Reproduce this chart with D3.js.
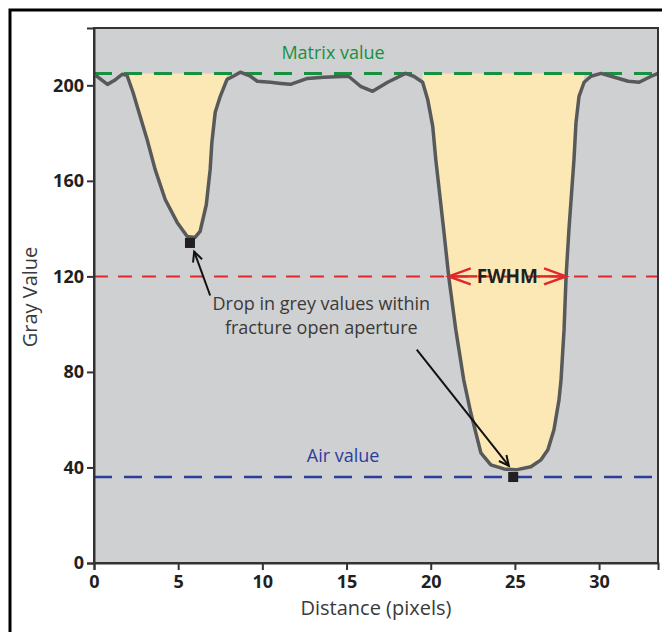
<!DOCTYPE html>
<html><head><meta charset="utf-8">
<script src="https://cdn.jsdelivr.net/npm/d3@7"></script>
<style>
html,body{margin:0;padding:0;background:#fff;}
svg{display:block;font-family:"Open Sans","Noto Sans",sans-serif;}
</style></head>
<body>
<svg id="c" width="662" height="632"></svg>
<script>
// ---- data ----
const distance = [0.1, 0.8, 1.2, 1.67, 1.96, 2.32, 2.74, 3.15, 3.63, 4.23, 4.94, 5.54, 6.0, 6.3, 6.67, 6.9, 7.0, 7.2, 7.5, 7.9, 8.27, 8.69, 9.29, 9.7, 10.48, 11.1, 11.67, 12.68, 13.63, 15.12, 15.83, 16.55, 17.44, 18.51, 18.99, 19.52, 19.82, 20.12, 20.3, 20.77, 21.07, 21.49, 21.96, 22.38, 22.98, 23.57, 24.35, 25.06, 25.95, 26.55, 26.96, 27.32, 27.62, 27.74, 27.92, 28.04, 28.21, 28.51, 28.63, 28.81, 29.11, 29.52, 30.12, 30.71, 31.73, 32.38, 33.1, 33.5];
const grayValue = [204.2, 200.4, 202, 204.6, 204.2, 197, 187, 177.4, 164.8, 152.2, 142.6, 136.7, 136.3, 138.8, 150, 164.8, 176, 188.7, 195.4, 202.5, 203.8, 205.5, 203.8, 201.7, 201.3, 200.8, 200.4, 202.9, 203.4, 203.8, 199.6, 197.5, 201.3, 205, 203.8, 201.3, 194.1, 182.8, 169, 139.6, 119.9, 97.7, 76.7, 62.9, 46.1, 41.1, 39.4, 39, 40.3, 43.2, 47.4, 55.8, 68.3, 76.7, 97.7, 119.9, 139.6, 169, 184.5, 195.4, 201.3, 203.8, 205, 203.8, 201.7, 201.3, 203.8, 205];
const dipRanges = [[1.67, 8.0], [19.3, 29.3]];
const minimaX = [5.7, 24.9];
const minimaY = [134, 36];
const matrixValue = 205;
const fwhmLevel = 120;
const airValue = 36;
const fwhmBounds = [21.07, 28.04];
const xTicks = [0, 5, 10, 15, 20, 25, 30];
const yTicks = [0, 40, 80, 120, 160, 200];
const xDomain = [0, 33.5];
const yDomain = [0, 224];

// ---- layout ----
const svg = d3.select("#c");
const L = 94, R = 658, T = 28, B = 563;
const x = d3.scaleLinear().domain(xDomain).range([L, R]);
const y = d3.scaleLinear().domain(yDomain).range([B, T]);

// outer frame
svg.append("rect").attr("x", 10).attr("y", 10).attr("width", 700).attr("height", 700)
  .attr("fill", "none").attr("stroke", "#000").attr("stroke-width", 3);

// plot background
svg.append("rect").attr("x", L).attr("y", T).attr("width", R - L).attr("height", B - T)
  .attr("fill", "#cfd0d2");

// fills
const pts = distance.map((d, i) => [d, grayValue[i]]);
const area = d3.area().x(d => x(d[0])).y0(y(matrixValue)).y1(d => y(Math.min(d[1], matrixValue)));
dipRanges.forEach(r => {
  const sub = pts.filter(p => p[0] >= r[0] && p[0] <= r[1]);
  svg.append("path").attr("d", area(sub)).attr("fill", "#fbe8b4");
});

// reference lines
function hline(v, color, dash, w) {
  svg.append("line").attr("x1", L).attr("x2", R).attr("y1", y(v)).attr("y2", y(v))
    .attr("stroke", color).attr("stroke-width", w).attr("stroke-dasharray", dash);
}
hline(matrixValue, "#16913f", "18,12", 3);
hline(fwhmLevel, "#e3262c", "14,10", 2);
hline(airValue, "#2b3d9b", "18,12", 2.5);

// profile line
svg.append("path").attr("d", d3.line().x(d => x(d[0])).y(d => y(d[1]))(pts))
  .attr("fill", "none").attr("stroke", "#58595b").attr("stroke-width", 3.5)
  .attr("stroke-linejoin", "round");

// minima squares
minimaX.forEach((mx, i) => {
  svg.append("rect").attr("x", x(mx) - 5).attr("y", y(minimaY[i]) - 5)
    .attr("width", 10).attr("height", 10).attr("fill", "#231f20");
});

// plot frame
svg.append("rect").attr("x", L).attr("y", T).attr("width", R - L).attr("height", B - T)
  .attr("fill", "none").attr("stroke", "#333").attr("stroke-width", 2);

// axes
const xa = svg.append("g").attr("transform", `translate(0,${B})`)
  .call(d3.axisBottom(x).tickValues(xTicks).tickSize(7).tickPadding(5).tickFormat(d3.format("d")));
const ya = svg.append("g").attr("transform", `translate(${L},0)`)
  .call(d3.axisLeft(y).tickValues(yTicks).tickSize(7).tickPadding(3).tickFormat(d3.format("d")));
[xa, ya].forEach(g => {
  g.select(".domain").attr("stroke", "#333").attr("stroke-width", 2);
  g.selectAll(".tick line").attr("stroke", "#333").attr("stroke-width", 2);
  g.selectAll(".tick text").attr("fill", "#231f20").attr("font-size", 18).attr("font-weight", "bold")
    .attr("font-family", "'Open Sans','Noto Sans',sans-serif");
});

// axis titles
svg.append("text").attr("x", (L + R) / 2).attr("y", 615).attr("text-anchor", "middle")
  .attr("font-size", 20).attr("fill", "#3a3a3a").text("Distance (pixels)");
svg.append("text").attr("transform", `translate(37,297) rotate(-90)`)
  .attr("text-anchor", "middle").attr("font-size", 20).attr("fill", "#3a3a3a").text("Gray Value");

// labels for reference levels
svg.append("text").attr("x", x(14.2)).attr("y", y(matrixValue) - 14).attr("text-anchor", "middle")
  .attr("font-size", 18).attr("fill", "#16913f").text("Matrix value");
svg.append("text").attr("x", x(14.8)).attr("y", y(airValue) - 15).attr("text-anchor", "middle")
  .attr("font-size", 18).attr("fill", "#2b3d9b").text("Air value");

// FWHM arrow
const fx0 = x(fwhmBounds[0]), fx1 = x(fwhmBounds[1]), fy = y(fwhmLevel);
const fmid = (fx0 + fx1) / 2;
svg.append("line").attr("x1", fx0).attr("x2", fmid - 30).attr("y1", fy).attr("y2", fy)
  .attr("stroke", "#e3262c").attr("stroke-width", 2.5);
svg.append("line").attr("x1", fmid + 30).attr("x2", fx1).attr("y1", fy).attr("y2", fy)
  .attr("stroke", "#e3262c").attr("stroke-width", 2.5);
svg.append("path").attr("d", `M${fx0 + 22},${fy - 8}L${fx0},${fy}L${fx0 + 22},${fy + 8}`)
  .attr("fill", "none").attr("stroke", "#e3262c").attr("stroke-width", 2.5);
svg.append("path").attr("d", `M${fx1 - 22},${fy - 8}L${fx1},${fy}L${fx1 - 22},${fy + 8}`)
  .attr("fill", "none").attr("stroke", "#e3262c").attr("stroke-width", 2.5);
svg.append("text").attr("x", fmid).attr("y", fy + 7).attr("text-anchor", "middle")
  .attr("font-size", 19).attr("font-weight", "bold").attr("fill", "#231f20").text("FWHM");

// annotation text
const ann = svg.append("text").attr("text-anchor", "middle").attr("font-size", 18).attr("fill", "#3a3a3a");
ann.append("tspan").attr("x", x(13.5)).attr("y", 310).text("Drop in grey values within");
ann.append("tspan").attr("x", x(13.5)).attr("y", 334).text("fracture open aperture");

// annotation arrows
function arrow(x0, y0, x1, y1) {
  const X0 = x(x0), Y0 = y(y0), X1 = x(x1), Y1 = y(y1);
  svg.append("line").attr("x1", X0).attr("y1", Y0).attr("x2", X1).attr("y2", Y1)
    .attr("stroke", "#111").attr("stroke-width", 2);
  const a = Math.atan2(Y1 - Y0, X1 - X0), h = 11, s = 0.45;
  const p1 = [X1 - h * Math.cos(a - s), Y1 - h * Math.sin(a - s)];
  const p2 = [X1 - h * Math.cos(a + s), Y1 - h * Math.sin(a + s)];
  svg.append("path").attr("d", `M${p1}L${X1},${Y1}L${p2}`)
    .attr("fill", "none").attr("stroke", "#111").attr("stroke-width", 2);
}
arrow(6.9, 112, 5.95, 130.4);
arrow(19.17, 89.3, 24.64, 40.7);
</script>
</body></html>
